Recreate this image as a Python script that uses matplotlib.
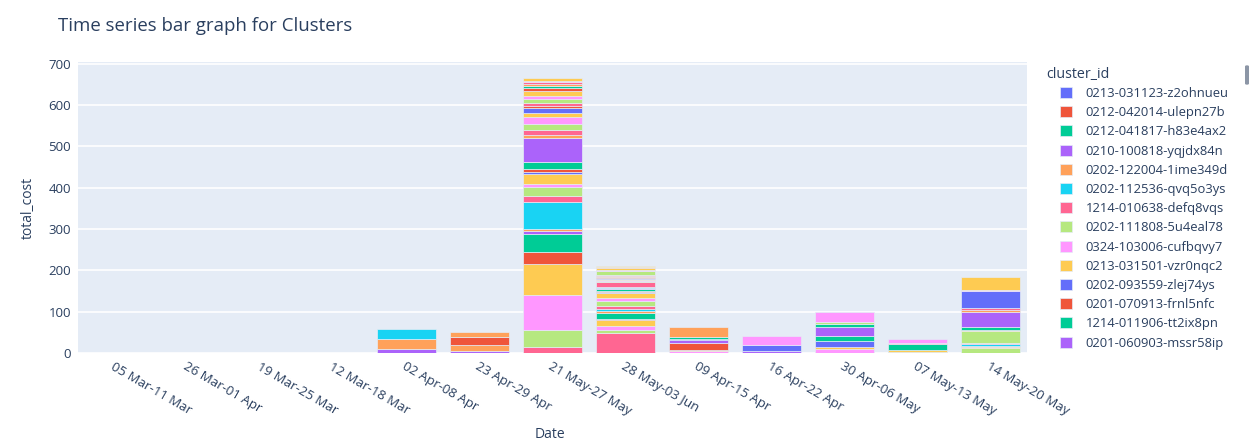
import numpy as np
import matplotlib.pyplot as plt
from matplotlib.patches import Patch, FancyBboxPatch

plt.rcParams['font.family'] = ['Open Sans', 'DejaVu Sans']

dates = ["05 Mar-11 Mar", "26 Mar-01 Apr", "19 Mar-25 Mar", "12 Mar-18 Mar",
         "02 Apr-08 Apr", "23 Apr-29 Apr", "21 May-27 May", "28 May-03 Jun",
         "09 Apr-15 Apr", "16 Apr-22 Apr", "30 Apr-06 May", "07 May-13 May",
         "14 May-20 May"]

cluster_ids = [
    "0213-031123-z2ohnueu", "0212-042014-ulepn27b", "0212-041817-h83e4ax2",
    "0210-100818-yqjdx84n", "0202-122004-1ime349d", "0202-112536-qvq5o3ys",
    "1214-010638-defq8vqs", "0202-111808-5u4eal78", "0324-103006-cufbqvy7",
    "0213-031501-vzr0nqc2", "0202-093559-zlej74ys", "0201-070913-frnl5nfc",
    "1214-011906-tt2ix8pn", "0201-060903-mssr58ip",
    "0131-223015-abq7kd2e", "0131-190422-pw3nx8tz", "0130-141105-k9rm2vla",
    "0129-082731-hd4s7yqe", "0128-170950-c2uj6xno", "0127-113348-fz8wq1mb",
    "0126-094212-nt5ey3kc", "0125-201603-u7gd9lrw", "0124-152844-yx1bv6sp",
    "0123-071539-mq4hz2ta", "0122-180017-je9ck5ov", "0121-132256-rb6tw8nf",
    "0120-090741-lz3pq7xd", "0119-164420-sv2mh9ek", "0118-121108-go7yn4uc",
    "0117-083355-wa5jr1ti", "0116-195832-ek8dx6qz", "0115-142619-ip1lf3vb",
    "0114-104047-ty9sb2mg", "0113-071223-ox4kw7hr", "0112-183504-cn6vz5ua",
    "0111-135946-hu2ge8ly", "0110-092718-ds7qa1wo", "0109-170331-zr3nt9ij",
    "0108-124850-mf5bu4kx", "0107-080206-ql8yc2ep", "0106-191534-vb1ho6ra",
    "0105-143709-ag9xm3td", "0104-102457-kw4rj7sn", "0103-065841-pe2fv8zc",
    "0102-175120-yh6ld1gm", "0101-131402-ju3sk9wb", "1231-084926-rx7ot5ef",
    "1230-201147-nl9ze2qv", "1229-153358-bt4ia6hy", "1228-110635-fo8up3cj",
]

# (cluster index, total_cost) per week
w_05mar = [(2, 0.4)]
w_26mar = [(26, 1.2)]
w_19mar = [(5, 0.6)]
w_12mar = [(12, 0.3)]
w_02apr = [(3, 9.8), (4, 23.5), (5, 25.0)]
w_23apr = [(3, 5.0), (4, 14.5), (11, 19.5), (14, 12.0)]
w_21may = [(6, 14.6), (7, 40), (8, 86.6), (9, 73), (11, 30), (12, 43.7),
           (13, 6.5), (14, 5.7), (15, 65.6), (16, 14.6), (17, 21), (18, 8),
           (19, 22.7), (20, 5.6), (21, 8), (22, 17), (23, 57.6), (24, 7.3),
           (26, 13), (27, 14.5), (28, 17), (29, 9.7), (30, 12), (31, 5),
           (36, 6), (37, 8.8), (38, 8), (39, 11.3), (41, 9), (42, 3), (43, 2),
           (44, 3), (45, 2), (46, 3), (47, 2), (48, 2), (49, 5.8)]
w_28may = [(6, 49), (7, 7.5), (8, 9.5), (9, 13), (11, 3), (12, 15.6), (14, 4),
           (15, 4), (16, 7.4), (17, 13.6), (18, 7.4), (19, 10), (20, 3),
           (21, 3), (22, 4), (23, 3), (25, 3), (26, 11), (27, 3), (28, 3),
           (29, 2), (30, 3), (31, 2), (34, 2), (36, 2), (37, 11), (38, 3),
           (39, 3), (44, 2), (49, 2.7)]
w_09apr = [(8, 4), (9, 3.8), (11, 15.5), (13, 7.3), (20, 4), (22, 4), (24, 23.6)]
w_16apr = [(3, 4.5), (10, 13.9), (18, 23.6)]
w_30apr = [(8, 10.2), (9, 4.9), (10, 13.1), (12, 12.2), (13, 22), (22, 8.2),
           (27, 4.9), (28, 24.5)]
w_07may = [(7, 2.8), (9, 5), (12, 13), (16, 3.2), (18, 10.7)]
w_14may = [(7, 11.3), (9, 3.2), (14, 3), (15, 3.5), (16, 3), (17, 29), (19, 3.5),
           (22, 7.2), (23, 36.3), (24, 5), (26, 3), (30, 42), (38, 1.6), (39, 31.4)]

weeks = [w_05mar, w_26mar, w_19mar, w_12mar, w_02apr, w_23apr, w_21may,
         w_28may, w_09apr, w_16apr, w_30apr, w_07may, w_14may]

palette = ['#636EFA', '#EF553B', '#00CC96', '#AB63FA', '#FFA15A',
           '#19D3F3', '#FF6692', '#B6E880', '#FF97FF', '#FECB52']

costs = np.zeros((len(cluster_ids), len(dates)))
for d, week in enumerate(weeks):
    for c, v in week:
        costs[c, d] = v

fig = plt.figure(figsize=(12.52, 4.47), dpi=100)
ax = fig.add_axes([78 / 1252, 1 - 353 / 447, 949 / 1252, 291 / 447])
ax.set_facecolor('#E5ECF6')

x = np.arange(len(dates))
bottom = np.zeros(len(dates))
for c in range(len(cluster_ids)):
    m = costs[c] > 0
    ax.bar(x[m], costs[c][m], bottom=bottom[m], width=0.8,
           color=palette[c % 10], edgecolor='#E5ECF6', linewidth=0.5, zorder=3)
    bottom += costs[c]

ax.set_xlim(-0.5, len(dates) - 0.5)
ax.set_ylim(0, 704)
ax.set_yticks(np.arange(0, 701, 100))
ax.grid(axis='y', color='white', linewidth=1.2, zorder=0)
ax.set_axisbelow(True)
for s in ax.spines.values():
    s.set_visible(False)
ax.tick_params(length=0, colors='#2a3f5f', labelsize=9.5, pad=5)
ax.set_xticks(x)
ax.set_xticklabels(dates, rotation=-30, ha='left', va='top',
                   rotation_mode='anchor')

ax.set_ylabel('total_cost', fontsize=10, color='#2a3f5f', labelpad=9)
fig.text(550 / 1252, 1 - 434 / 447, 'Date', fontsize=10, color='#2a3f5f',
         ha='center', va='center')
fig.text(58 / 1252, 1 - 26 / 447, 'Time series bar graph for Clusters',
         fontsize=13.4, color='#2a3f5f', ha='left', va='center')

# legend
fig.text(1046 / 1252, 1 - 75 / 447, 'cluster_id', fontsize=10.3,
         color='#2a3f5f', ha='left', va='center')
handles = [Patch(facecolor=palette[i % 10], edgecolor='#E5ECF6', linewidth=0.5)
           for i in range(14)]
leg = fig.legend(handles, cluster_ids[:14], loc='upper left',
                 bbox_to_anchor=(1060 / 1252, 1 - 87 / 447), frameon=False,
                 fontsize=9.4, handlelength=0.9, handleheight=0.9,
                 handletextpad=1.05, labelspacing=0.475, borderaxespad=0,
                 borderpad=0)
for t in leg.get_texts():
    t.set_color('#2a3f5f')

# legend scrollbar
fig.patches.append(FancyBboxPatch((1245 / 1252, 1 - 85 / 447), 4 / 1252, 20 / 447,
                                  boxstyle='round,pad=0,rounding_size=0.003',
                                  transform=fig.transFigure, facecolor='#8c96a6',
                                  edgecolor='none'))

plt.savefig('out.png', dpi=100)
